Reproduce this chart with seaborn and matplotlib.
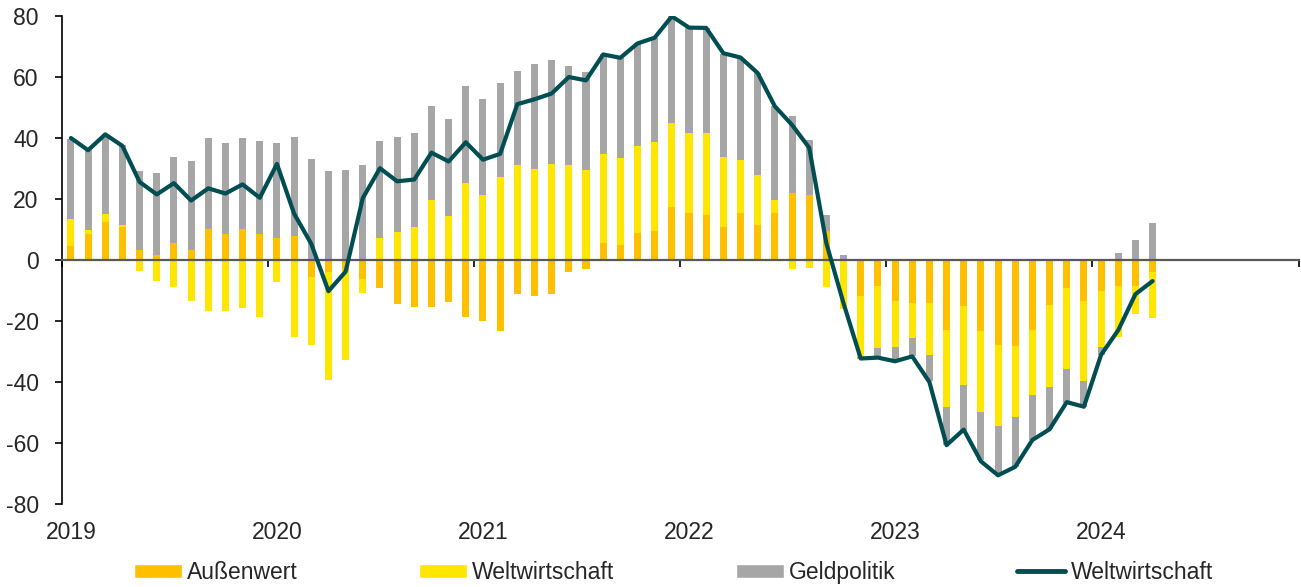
import numpy as np
import pandas as pd
import matplotlib
matplotlib.use("Agg")
import matplotlib.pyplot as plt
from matplotlib.lines import Line2D
from matplotlib.patches import Patch
import seaborn as sns

# monthly contributions, Jan 2019 - Apr 2024
months = pd.date_range("2019-01-01", "2024-04-01", freq="MS")

aussenwert = [
    4.6, 8.4, 12.5, 10.8, 3.2, 1.5, 5.5, 3.2, 10.1, 8.6, 10.2, 8.6,
    7.1, 8.0, -5.6, -3.9, -3.6, -6.3, -9.1, -14.5, -15.4, -15.4, -13.9, -18.7,
    -20.0, -23.4, -11.0, -11.8, -11.0, -3.9, -2.8, 5.6, 4.8, 8.7, 9.5, 17.4,
    15.4, 14.6, 10.7, 15.4, 11.4, 15.4, 21.9, 21.3, 9.4, 0.0, -11.8, -8.5,
    -13.5, -14.2, -14.1, -23.0, -15.1, -23.2, -27.9, -28.2, -23.0, -14.9, -9.3, -13.4,
    -10.2, -8.5, -8.5, -3.8,
]
weltwirtschaft = [
    9.0, 1.4, 2.6, 0.6, -3.6, -7.0, -8.9, -13.4, -16.8, -16.6, -15.7, -18.7,
    -7.1, -25.2, -22.2, -35.3, -29.3, -4.6, 7.3, 9.2, 10.9, 19.6, 14.5, 25.1,
    21.2, 27.1, 31.3, 29.9, 31.4, 31.0, 29.4, 29.3, 28.6, 28.7, 29.3, 27.4,
    26.2, 27.0, 23.0, 17.3, 16.5, 4.2, -3.0, -2.7, -9.0, -16.2, -19.9, -20.5,
    -15.1, -11.3, -16.9, -25.1, -25.9, -26.5, -26.4, -23.4, -21.3, -26.6, -26.4, -26.3,
    -18.2, -16.6, -9.2, -15.1,
]
geldpolitik = [
    26.2, 26.2, 26.0, 26.2, 26.1, 26.9, 28.2, 29.4, 30.0, 29.9, 29.9, 30.4,
    31.2, 32.3, 33.0, 29.1, 29.4, 31.3, 31.6, 31.1, 30.8, 30.8, 31.6, 31.9,
    31.7, 31.0, 30.7, 34.5, 34.3, 32.7, 32.2, 32.5, 32.9, 33.6, 34.1, 35.1,
    34.5, 34.6, 33.9, 33.6, 33.4, 30.8, 25.3, 18.0, 5.3, 1.8, -0.6, -2.5,
    -4.2, -6.0, -8.8, -12.6, -14.7, -15.9, -15.6, -16.2, -14.7, -14.0, -11.1, -8.4,
    -2.7, 2.2, 6.6, 12.0,
]
gesamt = [
    40.0, 36.0, 41.2, 37.4, 25.6, 21.5, 25.2, 19.5, 23.5, 21.8, 24.8, 20.4,
    31.5, 15.2, 5.3, -10.2, -3.8, 20.3, 30.1, 25.8, 26.4, 35.2, 32.3, 38.6,
    32.9, 34.8, 51.1, 52.7, 54.6, 60.0, 58.9, 67.4, 66.3, 71.0, 72.9, 79.9,
    76.2, 76.1, 67.8, 66.4, 61.3, 50.4, 44.3, 36.8, 5.5, -14.2, -32.3, -32.0,
    -33.2, -31.6, -40.0, -60.7, -55.6, -66.0, -70.6, -67.8, -59.0, -55.5, -46.6, -48.1,
    -31.1, -23.0, -11.2, -6.9,
]
years = ["2019", "2020", "2021", "2022", "2023", "2024"]

ORANGE = "#FFC000"
YELLOW = "#FFE600"
GRAY = "#A6A6A6"
TEAL = "#004D52"

sns.set_theme(style="white")
plt.rcParams["font.family"] = ["Liberation Sans", "DejaVu Sans"]
plt.rcParams["axes.unicode_minus"] = False
FS = 16.5

fig = plt.figure(figsize=(13.01, 5.87), dpi=100)
ax = fig.add_axes([0.0479, 0.1414, 0.9502, 0.8313])

x = np.arange(len(months))
parts = [(aussenwert, ORANGE), (weltwirtschaft, YELLOW), (geldpolitik, GRAY)]
pos_base = np.zeros(len(x))
neg_base = np.zeros(len(x))
for vals, color in parts:
    v = np.asarray(vals)
    bottom = np.where(v >= 0, pos_base, neg_base)
    ax.bar(x, v, bottom=bottom, width=0.41, color=color, linewidth=0, zorder=1)
    pos_base = pos_base + np.clip(v, 0, None)
    neg_base = neg_base + np.clip(v, None, 0)

sns.lineplot(x=x, y=gesamt, ax=ax, color=TEAL, lw=3, zorder=4,
             solid_capstyle="round", solid_joinstyle="round")

ax.set_xlim(-0.5, 71.5)
ax.set_ylim(-80, 80)
ax.set_yticks(np.arange(-80, 81, 20))
ax.tick_params(axis="y", which="major", direction="out", length=5, width=1.2,
               color="black", labelsize=FS, pad=12, left=True)

# zero line with year boundary ticks
ax.spines["bottom"].set_position(("data", 0))
ax.spines["bottom"].set_color("#595959")
ax.spines["bottom"].set_linewidth(1.6)
ax.spines["bottom"].set_zorder(3)
ax.set_xticks(np.arange(-0.5, 72, 12))
ax.tick_params(axis="x", which="major", direction="out", length=5, width=1.2,
               color="black", labelbottom=False, bottom=True)
ax.spines["left"].set_color("black")
ax.spines["left"].set_linewidth(1.2)
for s in ["top", "right"]:
    ax.spines[s].set_visible(False)

# year labels sit at the bottom of the plot
sec = ax.secondary_xaxis("bottom")
sec.set_xticks(np.arange(0, 72, 12)[:len(years)])
sec.set_xticklabels(years)
sec.tick_params(length=0, labelsize=FS, pad=12)
sec.spines["bottom"].set_visible(False)

handles = [
    Patch(facecolor=ORANGE, label="Außenwert"),
    Patch(facecolor=YELLOW, label="Weltwirtschaft"),
    Patch(facecolor=GRAY, label="Geldpolitik"),
    Line2D([], [], color=TEAL, lw=3.5, solid_capstyle="round", label="Weltwirtschaft"),
]
fig.legend(handles=handles, loc="center", bbox_to_anchor=(0.5175, 0.025), ncol=4,
           frameon=False, fontsize=FS, handlelength=2.1, handleheight=0.55,
           handletextpad=0.22, columnspacing=5.3, borderaxespad=0)

fig.savefig("out.png", dpi=100)
